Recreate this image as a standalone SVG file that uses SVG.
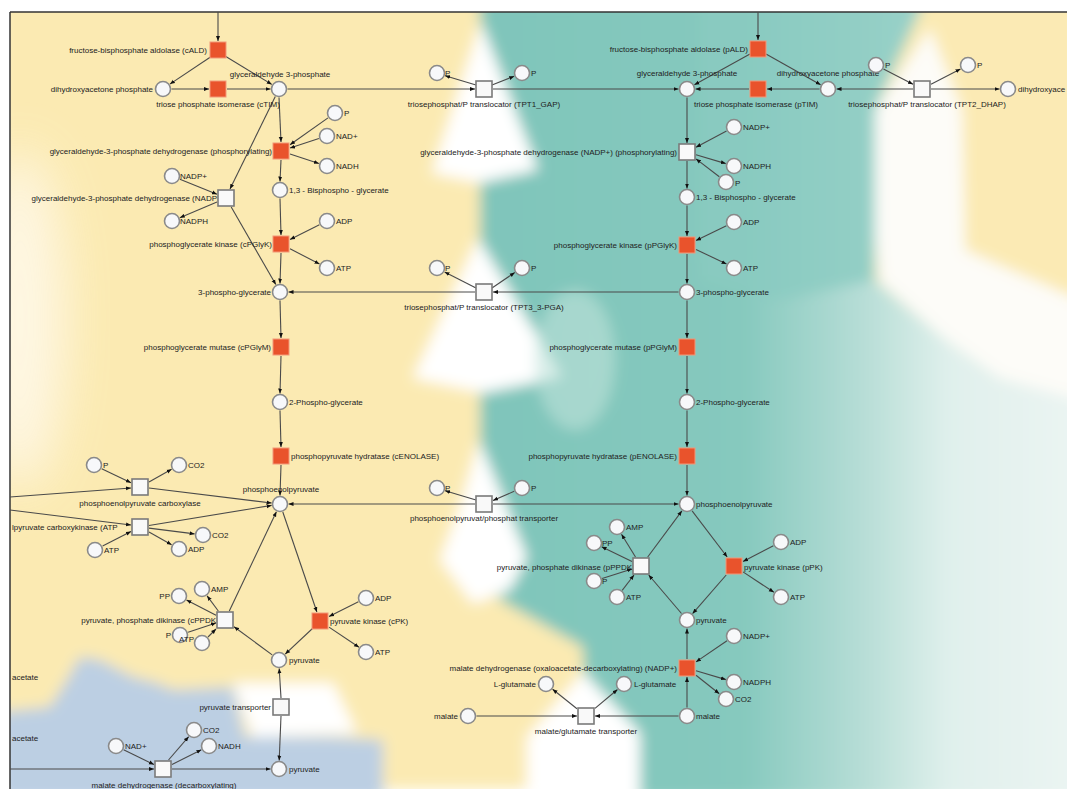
<svg xmlns="http://www.w3.org/2000/svg" width="1067" height="789" viewBox="0 0 1067 789">
<defs>
<style>
.c{fill:#f7f8fa;stroke:#8a8a8a;stroke-width:1.6}
.s{fill:#f9f9f9;stroke:#7a7a7a;stroke-width:1.6}
.o{fill:#e9532c;stroke:#f29878;stroke-width:1}
text{font-family:"Liberation Sans",Arial,sans-serif;font-size:8px;fill:#222}
.m{text-anchor:middle}
.r{text-anchor:end}
#edges line{stroke:#4a4a4a;stroke-width:1.1;marker-end:url(#ah)}
</style>
<marker id="ah" viewBox="0 0 10 10" refX="10" refY="5" markerWidth="5" markerHeight="5" orient="auto" markerUnits="userSpaceOnUse"><path d="M0,1 L10,5 L0,9 z" fill="#111"/></marker>
<filter id="soft" x="-10%" y="-10%" width="120%" height="120%"><feGaussianBlur stdDeviation="7"/></filter>
<filter id="wide" x="-50%" y="-50%" width="200%" height="200%"><feGaussianBlur stdDeviation="25"/></filter>
<clipPath id="frame"><rect x="10" y="12" width="1057" height="777"/></clipPath>
<linearGradient id="teal" x1="480" y1="0" x2="1067" y2="0" gradientUnits="userSpaceOnUse">
<stop offset="0" stop-color="#7fc5ba"/><stop offset="0.45" stop-color="#86c9be"/><stop offset="0.65" stop-color="#b6ddd6"/><stop offset="0.8" stop-color="#e0f0ec"/><stop offset="1" stop-color="#eaf4f2"/>
</linearGradient>
</defs>
<rect width="1067" height="789" fill="#ffffff"/>
<g id="background" clip-path="url(#frame)">
<g filter="url(#soft)">
<rect x="0" y="0" width="1067" height="789" fill="#fbeab2"/>
<polygon points="480,0 925,0 875,110 875,280 940,335 1000,378 1080,400 1080,800 640,800 640,735 583,672 583,647 500,600 480,560" fill="url(#teal)"/>
<polygon points="700,0 925,0 875,110 875,280 780,300 700,280" fill="#8acbc0" opacity="0.8"/>
<polygon points="925,0 1080,0 1080,300 965,250 962,110 930,28" fill="#fbeab4"/>
<polygon points="930,28 962,110 965,250 1080,300 1080,400 1000,378 940,335 880,282 875,235 875,110" fill="#fdfcf8"/>
<polygon points="481,22 538,170 480,183 432,173" fill="#ffffff"/>
<polygon points="478,238 562,377 483,393 413,378" fill="#ffffff"/>
<polygon points="479,440 527,557 510,590 473,604 440,560 462,500" fill="#ffffff"/>
<polygon points="583,672 640,733 640,800 527,800 527,737" fill="#ffffff"/>
<polygon points="0,712 50,707 67,680 80,657 100,660 133,677 157,683 173,690 233,687 245,737 330,737 383,740 383,800 0,800" fill="#bccfe3"/>
<polygon points="233,683 333,683 357,733 253,737" fill="#ffffff"/>
<ellipse cx="575" cy="360" rx="40" ry="70" fill="#bfe2db" opacity="0.6"/>
</g>
<ellipse cx="20" cy="320" rx="45" ry="170" fill="#fffaf0" opacity="0.8" filter="url(#wide)"/>
</g>
<g id="frame-lines" stroke="#333" stroke-width="1.5" fill="none">
<line x1="10" y1="12" x2="1067" y2="12"/>
<line x1="10" y1="12" x2="10" y2="789"/>
</g>
<g id="edges">
<line x1="218" y1="12" x2="218" y2="41"/>
<line x1="212" y1="56" x2="169.9" y2="84.1"/>
<line x1="225" y1="56" x2="271.8" y2="84.4"/>
<line x1="171.5" y1="89" x2="209" y2="89"/>
<line x1="227" y1="89" x2="270.5" y2="89"/>
<line x1="287.5" y1="89" x2="475" y2="89"/>
<line x1="493" y1="89" x2="678.5" y2="89"/>
<line x1="476" y1="85" x2="445.1" y2="75.7"/>
<line x1="492" y1="85" x2="514.2" y2="76.3"/>
<line x1="275.3" y1="96.6" x2="230" y2="189"/>
<line x1="179.9" y1="179.2" x2="217" y2="194.3"/>
<line x1="217" y1="202" x2="179.8" y2="217.7"/>
<line x1="231.2" y1="207" x2="275.8" y2="284.6"/>
<line x1="279" y1="97.5" x2="281" y2="142"/>
<line x1="328" y1="117.9" x2="290" y2="144.7"/>
<line x1="318.9" y1="138.6" x2="290" y2="148.1"/>
<line x1="290" y1="154" x2="318.9" y2="163.4"/>
<line x1="281" y1="160" x2="280" y2="181.5"/>
<line x1="280" y1="198.5" x2="281" y2="235"/>
<line x1="319.4" y1="224.8" x2="290" y2="239.5"/>
<line x1="290" y1="248.7" x2="319.5" y2="264.1"/>
<line x1="281" y1="253" x2="280" y2="283.5"/>
<line x1="678.5" y1="292" x2="493" y2="292"/>
<line x1="475" y1="292" x2="288.5" y2="292"/>
<line x1="476" y1="288" x2="444.6" y2="271.9"/>
<line x1="492" y1="288" x2="514.8" y2="272.5"/>
<line x1="280" y1="300.5" x2="281" y2="338"/>
<line x1="281" y1="356" x2="280" y2="393.5"/>
<line x1="280" y1="410.5" x2="281" y2="447"/>
<line x1="281" y1="465" x2="280" y2="495.5"/>
<line x1="475" y1="504" x2="288.5" y2="504"/>
<line x1="493" y1="504" x2="678.5" y2="504"/>
<line x1="476" y1="500" x2="445.1" y2="490.7"/>
<line x1="514.2" y1="491.3" x2="493" y2="500.5"/>
<line x1="10" y1="497" x2="131" y2="488"/>
<line x1="149" y1="488" x2="271.6" y2="503"/>
<line x1="101.7" y1="468.7" x2="131" y2="482.7"/>
<line x1="149" y1="482" x2="171.6" y2="469.2"/>
<line x1="10" y1="510" x2="131" y2="525"/>
<line x1="149" y1="525.5" x2="271.6" y2="505.4"/>
<line x1="102.6" y1="546.1" x2="131" y2="531.5"/>
<line x1="149" y1="528.1" x2="194.6" y2="533.9"/>
<line x1="149" y1="532" x2="171.6" y2="544.8"/>
<line x1="229.3" y1="611" x2="276.4" y2="511.7"/>
<line x1="282.8" y1="512" x2="316.9" y2="612"/>
<line x1="313" y1="628" x2="285.2" y2="654.1"/>
<line x1="272.2" y1="654.9" x2="234" y2="626.7"/>
<line x1="358.4" y1="601.8" x2="329" y2="616.5"/>
<line x1="329" y1="627.1" x2="359" y2="647.3"/>
<line x1="216" y1="615.3" x2="186.5" y2="599.9"/>
<line x1="218.3" y1="611" x2="207.1" y2="595.8"/>
<line x1="188.1" y1="632.3" x2="216" y2="623"/>
<line x1="208" y1="637" x2="216" y2="629"/>
<line x1="281" y1="698" x2="279.2" y2="668.5"/>
<line x1="281" y1="716" x2="279.2" y2="760.5"/>
<line x1="10" y1="769" x2="154" y2="769"/>
<line x1="172" y1="769" x2="270.5" y2="769"/>
<line x1="123.6" y1="749.7" x2="154" y2="764.6"/>
<line x1="168.5" y1="760" x2="188.7" y2="736.7"/>
<line x1="172" y1="764.5" x2="201.4" y2="749.8"/>
<line x1="758" y1="12" x2="758" y2="40"/>
<line x1="750" y1="54" x2="694.4" y2="84.8"/>
<line x1="766" y1="54" x2="820.6" y2="84.8"/>
<line x1="819.5" y1="89" x2="767" y2="89"/>
<line x1="749" y1="89" x2="695.5" y2="89"/>
<line x1="913" y1="89" x2="836.5" y2="89"/>
<line x1="931" y1="89" x2="999.5" y2="89"/>
<line x1="883.5" y1="68.9" x2="913" y2="84.3"/>
<line x1="931" y1="84.3" x2="960.5" y2="68.9"/>
<line x1="687" y1="97.5" x2="687" y2="143"/>
<line x1="726.5" y1="131" x2="696" y2="147.2"/>
<line x1="696" y1="154.7" x2="725.8" y2="163.6"/>
<line x1="719.3" y1="176.8" x2="696" y2="158.9"/>
<line x1="687" y1="161" x2="687" y2="188.5"/>
<line x1="687" y1="205.5" x2="687" y2="236"/>
<line x1="726.4" y1="225.8" x2="696" y2="240.6"/>
<line x1="696" y1="249.4" x2="726.5" y2="264.1"/>
<line x1="687" y1="254" x2="687" y2="283.5"/>
<line x1="687" y1="300.5" x2="687" y2="338"/>
<line x1="687" y1="356" x2="687" y2="393.5"/>
<line x1="687" y1="410.5" x2="687" y2="447"/>
<line x1="687" y1="465" x2="687" y2="495.5"/>
<line x1="647.7" y1="557" x2="681.9" y2="510.8"/>
<line x1="692.1" y1="510.8" x2="727.2" y2="557"/>
<line x1="726.2" y1="575" x2="692.6" y2="613.6"/>
<line x1="681.5" y1="613.5" x2="648.7" y2="575"/>
<line x1="773.4" y1="545.8" x2="743" y2="561.5"/>
<line x1="743" y1="571.9" x2="773.9" y2="592.3"/>
<line x1="635.5" y1="557" x2="621.5" y2="534.2"/>
<line x1="632" y1="561.6" x2="601.6" y2="546.7"/>
<line x1="602.1" y1="578.4" x2="632" y2="568.9"/>
<line x1="622.2" y1="590.3" x2="634" y2="575"/>
<line x1="687" y1="707.5" x2="687" y2="677"/>
<line x1="687" y1="659" x2="687" y2="628.5"/>
<line x1="727" y1="640.8" x2="696" y2="661.9"/>
<line x1="696" y1="670.7" x2="725.9" y2="679.6"/>
<line x1="696" y1="675.2" x2="719.3" y2="693.7"/>
<line x1="476.5" y1="716" x2="577" y2="716"/>
<line x1="678.5" y1="716" x2="595" y2="716"/>
<line x1="577" y1="708.8" x2="552.6" y2="689.3"/>
<line x1="595" y1="708.4" x2="617.5" y2="689.5"/>
</g>
<g id="cALD"><rect class="o" x="210" y="42" width="16" height="16"/><text class="r" x="207" y="53">fructose-bisphosphate aldolase (cALD)</text></g>
<g id="cDHAP"><circle class="c" cx="163" cy="89" r="7.5"/><text class="r" x="153" y="92">dihydroxyacetone phosphate</text></g>
<g id="cTIM"><rect class="o" x="210" y="81" width="16" height="16"/><text class="m" x="218" y="107">triose phosphate isomerase (cTIM)</text></g>
<g id="cGAP"><circle class="c" cx="279" cy="89" r="7.5"/><text class="m" x="280" y="77">glyceraldehyde 3-phosphate</text></g>
<g id="TPT1"><rect class="s" x="476" y="81" width="16" height="16"/><text class="m" x="484" y="107">triosephosphat/P translocator (TPT1_GAP)</text></g>
<g id="TPT1_P1"><circle class="c" cx="437" cy="73" r="7.5"/><text x="445" y="76">P</text></g>
<g id="TPT1_P2"><circle class="c" cx="522" cy="73" r="7.5"/><text x="531" y="76">P</text></g>
<g id="cGAPDH"><rect class="o" x="273" y="143" width="16" height="16"/><text class="r" x="272" y="154">glyceraldehyde-3-phosphate dehydrogenase (phosphorylating)</text></g>
<g id="cGAPDH_P"><circle class="c" cx="335" cy="113" r="7.5"/><text x="344" y="116">P</text></g>
<g id="cGAPDH_NAD"><circle class="c" cx="327" cy="136" r="7.5"/><text x="336" y="139">NAD+</text></g>
<g id="cGAPDH_NADH"><circle class="c" cx="327" cy="166" r="7.5"/><text x="336" y="169">NADH</text></g>
<g id="cBPG"><circle class="c" cx="280" cy="190" r="7.5"/><text x="289" y="193">1,3 - Bisphospho - glycerate</text></g>
<g id="cGAPDHN"><rect class="s" x="218" y="190" width="16" height="16"/><text class="r" x="217" y="201">glyceraldehyde-3-phosphate dehydrogenase (NADP</text></g>
<g id="cGAPDHN_NADP"><circle class="c" cx="172" cy="176" r="7.5"/><text x="180" y="179">NADP+</text></g>
<g id="cGAPDHN_NADPH"><circle class="c" cx="172" cy="221" r="7.5"/><text x="180" y="224">NADPH</text></g>
<g id="cPGK"><rect class="o" x="273" y="236" width="16" height="16"/><text class="r" x="272" y="247">phosphoglycerate kinase (cPGlyK)</text></g>
<g id="cPGK_ADP"><circle class="c" cx="327" cy="221" r="7.5"/><text x="336" y="224">ADP</text></g>
<g id="cPGK_ATP"><circle class="c" cx="327" cy="268" r="7.5"/><text x="336" y="271">ATP</text></g>
<g id="c3PG"><circle class="c" cx="280" cy="292" r="7.5"/><text class="r" x="271" y="295">3-phospho-glycerate</text></g>
<g id="TPT3"><rect class="s" x="476" y="284" width="16" height="16"/><text class="m" x="484" y="310">triosephosphat/P translocator (TPT3_3-PGA)</text></g>
<g id="TPT3_P1"><circle class="c" cx="437" cy="268" r="7.5"/><text x="445" y="271">P</text></g>
<g id="TPT3_P2"><circle class="c" cx="522" cy="268" r="7.5"/><text x="531" y="271">P</text></g>
<g id="cPGM"><rect class="o" x="273" y="339" width="16" height="16"/><text class="r" x="271" y="350">phosphoglycerate mutase (cPGlyM)</text></g>
<g id="c2PG"><circle class="c" cx="280" cy="402" r="7.5"/><text x="289" y="405">2-Phospho-glycerate</text></g>
<g id="cENO"><rect class="o" x="273" y="448" width="16" height="16"/><text x="291" y="459">phosphopyruvate hydratase (cENOLASE)</text></g>
<g id="cPEP"><circle class="c" cx="280" cy="504" r="7.5"/><text class="m" x="281" y="492">phosphoenolpyruvate</text></g>
<g id="PPT"><rect class="s" x="476" y="496" width="16" height="16"/><text class="m" x="484" y="521">phosphoenolpyruvat/phosphat transporter</text></g>
<g id="PPT_P1"><circle class="c" cx="437" cy="488" r="7.5"/><text x="445" y="491">P</text></g>
<g id="PPT_P2"><circle class="c" cx="522" cy="488" r="7.5"/><text x="531" y="491">P</text></g>
<g id="PEPC"><rect class="s" x="132" y="479" width="16" height="16"/><text class="m" x="140" y="506">phosphoenolpyruvate carboxylase</text></g>
<g id="PEPC_P"><circle class="c" cx="94" cy="465" r="7.5"/><text x="103" y="468">P</text></g>
<g id="PEPC_CO2"><circle class="c" cx="179" cy="465" r="7.5"/><text x="188" y="468">CO2</text></g>
<g id="PEPCK"><rect class="s" x="132" y="519" width="16" height="16"/><text x="12" y="530">lpyruvate carboxykinase (ATP</text></g>
<g id="PEPCK_CO2"><circle class="c" cx="203" cy="535" r="7.5"/><text x="212" y="538">CO2</text></g>
<g id="PEPCK_ADP"><circle class="c" cx="179" cy="549" r="7.5"/><text x="188" y="552">ADP</text></g>
<g id="PEPCK_ATP"><circle class="c" cx="95" cy="550" r="7.5"/><text x="104" y="553">ATP</text></g>
<g id="cPPDK"><rect class="s" x="217" y="612" width="16" height="16"/><text class="r" x="216" y="623">pyruvate, phosphate dikinase (cPPDK</text></g>
<g id="cPPDK_PP"><circle class="c" cx="179" cy="596" r="7.5"/><text class="r" x="170" y="599">PP</text></g>
<g id="cPPDK_AMP"><circle class="c" cx="202" cy="589" r="7.5"/><text x="211" y="592">AMP</text></g>
<g id="cPPDK_P"><circle class="c" cx="180" cy="635" r="7.5"/><text class="r" x="171" y="638">P</text></g>
<g id="cPPDK_ATP"><circle class="c" cx="202" cy="643" r="7.5"/><text x="179" y="642">ATP</text></g>
<g id="cPK"><rect class="o" x="312" y="613" width="16" height="16"/><text x="330" y="624">pyruvate kinase (cPK)</text></g>
<g id="cPK_ADP"><circle class="c" cx="366" cy="598" r="7.5"/><text x="375" y="601">ADP</text></g>
<g id="cPK_ATP"><circle class="c" cx="366" cy="652" r="7.5"/><text x="375" y="655">ATP</text></g>
<g id="cPYR"><circle class="c" cx="279" cy="660" r="7.5"/><text x="289" y="663">pyruvate</text></g>
<g id="PYRT"><rect class="s" x="273" y="699" width="16" height="16"/><text class="r" x="271" y="710">pyruvate transporter</text></g>
<g id="cPYR2"><circle class="c" cx="279" cy="769" r="7.5"/><text x="289" y="772">pyruvate</text></g>
<g id="ME"><rect class="s" x="155" y="761" width="16" height="16"/><text class="m" x="164" y="788">malate dehydrogenase (decarboxylating)</text></g>
<g id="ME_NAD"><circle class="c" cx="116" cy="746" r="7.5"/><text x="125" y="749">NAD+</text></g>
<g id="ME_CO2"><circle class="c" cx="194" cy="730" r="7.5"/><text x="203" y="733">CO2</text></g>
<g id="ME_NADH"><circle class="c" cx="209" cy="746" r="7.5"/><text x="218" y="749">NADH</text></g>
<g id="OAA1"><text x="12" y="680">acetate</text></g>
<g id="OAA2"><text x="12" y="741">acetate</text></g>
<g id="pALD"><rect class="o" x="750" y="41" width="16" height="16"/><text class="r" x="748" y="52">fructose-bisphosphate aldolase (pALD)</text></g>
<g id="pGAP"><circle class="c" cx="687" cy="89" r="7.5"/><text class="m" x="687" y="76">glyceraldehyde 3-phosphate</text></g>
<g id="pDHAP"><circle class="c" cx="828" cy="89" r="7.5"/><text class="m" x="828" y="76">dihydroxyacetone phosphate</text></g>
<g id="pTIM"><rect class="o" x="750" y="81" width="16" height="16"/><text class="m" x="756" y="107">triose phosphate isomerase (pTIM)</text></g>
<g id="TPT2"><rect class="s" x="914" y="81" width="16" height="16"/><text class="m" x="927" y="107">triosephosphat/P translocator (TPT2_DHAP)</text></g>
<g id="TPT2_P1"><circle class="c" cx="876" cy="65" r="7.5"/><text x="885" y="68">P</text></g>
<g id="TPT2_P2"><circle class="c" cx="968" cy="65" r="7.5"/><text x="977" y="68">P</text></g>
<g id="oDHAP"><circle class="c" cx="1008" cy="89" r="7.5"/><text x="1018" y="92">dihydroxyace</text></g>
<g id="pGAPDH"><rect class="s" x="679" y="144" width="16" height="16"/><text class="r" x="677" y="155">glyceraldehyde-3-phosphate dehydrogenase (NADP+) (phosphorylating)</text></g>
<g id="pGAPDH_NADP"><circle class="c" cx="734" cy="127" r="7.5"/><text x="743" y="130">NADP+</text></g>
<g id="pGAPDH_NADPH"><circle class="c" cx="734" cy="166" r="7.5"/><text x="743" y="169">NADPH</text></g>
<g id="pGAPDH_P"><circle class="c" cx="726" cy="182" r="7.5"/><text x="735" y="186">P</text></g>
<g id="pBPG"><circle class="c" cx="687" cy="197" r="7.5"/><text x="696" y="200">1,3 - Bisphospho - glycerate</text></g>
<g id="pPGK"><rect class="o" x="679" y="237" width="16" height="16"/><text class="r" x="677" y="248">phosphoglycerate kinase (pPGlyK)</text></g>
<g id="pPGK_ADP"><circle class="c" cx="734" cy="222" r="7.5"/><text x="743" y="225">ADP</text></g>
<g id="pPGK_ATP"><circle class="c" cx="734" cy="268" r="7.5"/><text x="743" y="271">ATP</text></g>
<g id="p3PG"><circle class="c" cx="687" cy="292" r="7.5"/><text x="696" y="295">3-phospho-glycerate</text></g>
<g id="pPGM"><rect class="o" x="679" y="339" width="16" height="16"/><text class="r" x="677" y="350">phosphoglycerate mutase (pPGlyM)</text></g>
<g id="p2PG"><circle class="c" cx="687" cy="402" r="7.5"/><text x="696" y="405">2-Phospho-glycerate</text></g>
<g id="pENO"><rect class="o" x="679" y="448" width="16" height="16"/><text class="r" x="677" y="459">phosphopyruvate hydratase (pENOLASE)</text></g>
<g id="pPEP"><circle class="c" cx="687" cy="504" r="7.5"/><text x="696" y="507">phosphoenolpyruvate</text></g>
<g id="pPPDK"><rect class="s" x="633" y="558" width="16" height="16"/><text class="r" x="632" y="570">pyruvate, phosphate dikinase (pPPDK</text></g>
<g id="pPPDK_AMP"><circle class="c" cx="617" cy="527" r="7.5"/><text x="626" y="530">AMP</text></g>
<g id="pPPDK_PP"><circle class="c" cx="594" cy="543" r="7.5"/><text x="602" y="546">PP</text></g>
<g id="pPPDK_P"><circle class="c" cx="594" cy="581" r="7.5"/><text x="602" y="584">P</text></g>
<g id="pPPDK_ATP"><circle class="c" cx="617" cy="597" r="7.5"/><text x="626" y="600">ATP</text></g>
<g id="pPK"><rect class="o" x="726" y="558" width="16" height="16"/><text x="744" y="570">pyruvate kinase (pPK)</text></g>
<g id="pPK_ADP"><circle class="c" cx="781" cy="542" r="7.5"/><text x="790" y="545">ADP</text></g>
<g id="pPK_ATP"><circle class="c" cx="781" cy="597" r="7.5"/><text x="790" y="600">ATP</text></g>
<g id="pPYR"><circle class="c" cx="687" cy="620" r="7.5"/><text x="696" y="623">pyruvate</text></g>
<g id="pME"><rect class="o" x="679" y="660" width="16" height="16"/><text class="r" x="677" y="671">malate dehydrogenase (oxaloacetate-decarboxylating) (NADP+)</text></g>
<g id="pME_NADP"><circle class="c" cx="734" cy="636" r="7.5"/><text x="743" y="639">NADP+</text></g>
<g id="pME_NADPH"><circle class="c" cx="734" cy="682" r="7.5"/><text x="743" y="685">NADPH</text></g>
<g id="pME_CO2"><circle class="c" cx="726" cy="699" r="7.5"/><text x="735" y="702">CO2</text></g>
<g id="pMAL"><circle class="c" cx="687" cy="716" r="7.5"/><text x="696" y="719">malate</text></g>
<g id="MGT"><rect class="s" x="578" y="708" width="16" height="16"/><text class="m" x="586" y="734">malate/glutamate transporter</text></g>
<g id="cMAL"><circle class="c" cx="468" cy="716" r="7.5"/><text class="r" x="458" y="719">malate</text></g>
<g id="GLU1"><circle class="c" cx="546" cy="684" r="7.5"/><text class="r" x="536" y="687">L-glutamate</text></g>
<g id="GLU2"><circle class="c" cx="624" cy="684" r="7.5"/><text x="634" y="687">L-glutamate</text></g>
</svg>
